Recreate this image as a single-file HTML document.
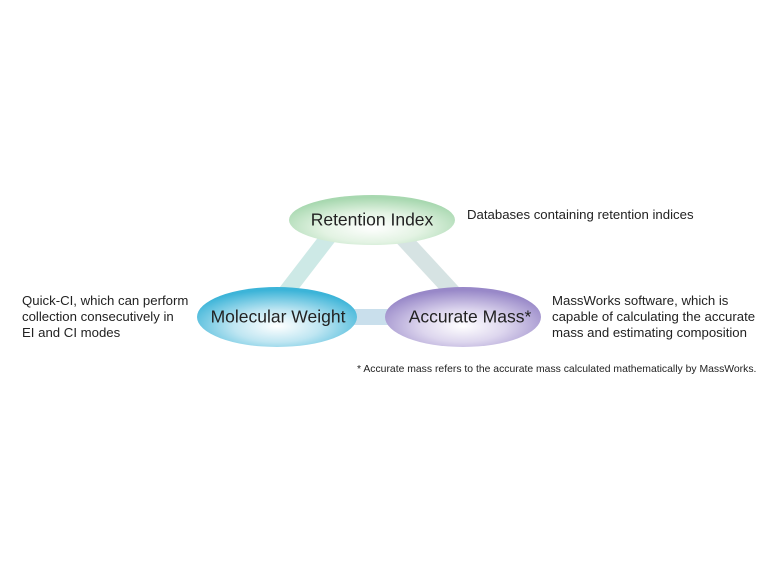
<!DOCTYPE html>
<html><head><style>
body{margin:0;background:#fff;width:780px;height:560px;overflow:hidden;font-family:"Liberation Sans",sans-serif}
</style></head><body>
<svg width="780" height="560" xmlns="http://www.w3.org/2000/svg">
<defs>
<radialGradient id="g1" cx="50%" cy="65%" r="60%"><stop offset="0" stop-color="#ffffff"/><stop offset="0.5" stop-color="#e3f3e3"/><stop offset="1" stop-color="#a8d8b0"/></radialGradient>
<radialGradient id="g2" cx="50%" cy="65%" r="60%"><stop offset="0" stop-color="#ffffff"/><stop offset="0.45" stop-color="#bfe6f2"/><stop offset="1" stop-color="#3cb4d8"/></radialGradient>
<radialGradient id="g3" cx="50%" cy="65%" r="60%"><stop offset="0" stop-color="#ffffff"/><stop offset="0.45" stop-color="#ddd6ee"/><stop offset="1" stop-color="#9888c8"/></radialGradient>
</defs>
<line x1="330" y1="235" x2="280" y2="300" stroke="#cde9e6" stroke-width="16"/>
<line x1="400" y1="235" x2="460" y2="300" stroke="#d6e3e3" stroke-width="16"/>
<line x1="350" y1="317" x2="395" y2="317" stroke="#c9dfec" stroke-width="16"/>
<ellipse cx="372" cy="220" rx="83" ry="25" fill="url(#g1)"/>
<ellipse cx="277" cy="317" rx="80" ry="30" fill="url(#g2)"/>
<ellipse cx="463" cy="317" rx="78" ry="30" fill="url(#g3)"/>
<g font-size="17.5" fill="#222" text-anchor="middle">
<text x="372" y="221" dominant-baseline="middle">Retention Index</text>
<text x="278" y="318" dominant-baseline="middle">Molecular Weight</text>
<text x="470" y="318" dominant-baseline="middle">Accurate Mass*</text>
</g>
<g font-size="13.2" fill="#222">
<text x="467" y="219">Databases containing retention indices</text>
<text x="22" y="305">Quick-CI, which can perform</text>
<text x="22" y="321">collection consecutively in</text>
<text x="22" y="337">EI and CI modes</text>
<text x="552" y="305">MassWorks software, which is</text>
<text x="552" y="321">capable of calculating the accurate</text>
<text x="552" y="337">mass and estimating composition</text>
<text x="357" y="372" font-size="10.4">* Accurate mass refers to the accurate mass calculated mathematically by MassWorks.</text>
</g>
</svg>
</body></html>
